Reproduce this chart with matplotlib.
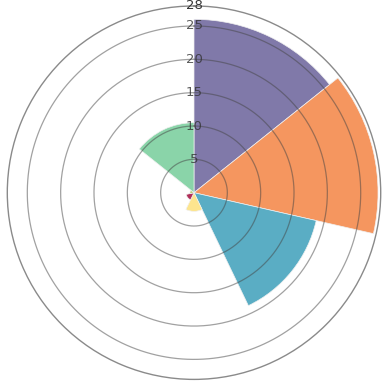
import numpy as np
import matplotlib
matplotlib.use("Agg")
import matplotlib.pyplot as plt

categories = ["A", "B", "C", "D", "E", "F", "G"]
values = [26.0, 27.6, 18.8, 2.8, 1.2, 0.6, 10.5]
colors = ["#8079A9", "#F5965F", "#5AADC4", "#FDE58E", "#B02F5A", "#B9C66A", "#8AD4A9"]
radial_ticks = [5, 10, 15, 20, 25, 28]
rmax = 28

fig = plt.figure(figsize=(3.86, 3.83), dpi=100)
ax = fig.add_axes([0.0189, 0.0094, 0.9674, 0.975], projection="polar")
ax.set_theta_zero_location("N")
ax.set_theta_direction(-1)

n = len(categories)
width = 2 * np.pi / n
theta = np.arange(n) * width
ax.bar(theta, values, width=width, align="edge", color=colors,
       edgecolor="#f0f0f0", linewidth=0.5, zorder=2)

ax.set_ylim(0, rmax)
ax.set_yticks(radial_ticks[:-1])
ax.set_yticklabels([])
ax.set_xticks([])
ax.grid(False)
circ = np.linspace(0, 2 * np.pi, 400)
for r in radial_ticks[:-1]:
    ax.plot(circ, np.full_like(circ, r), color="#444444", alpha=0.5,
            linewidth=0.9, zorder=3)
ax.spines["polar"].set_color("#8a8a8a")
ax.spines["polar"].set_linewidth(1.0)

for r in radial_ticks:
    ax.text(0, r, str(r), ha="center", va="center", fontsize=9.5,
            color="#333333", alpha=0.8 if r < 26 else 1.0, zorder=4,
            clip_on=False, family="DejaVu Sans")

fig.savefig("out.png", dpi=100)
